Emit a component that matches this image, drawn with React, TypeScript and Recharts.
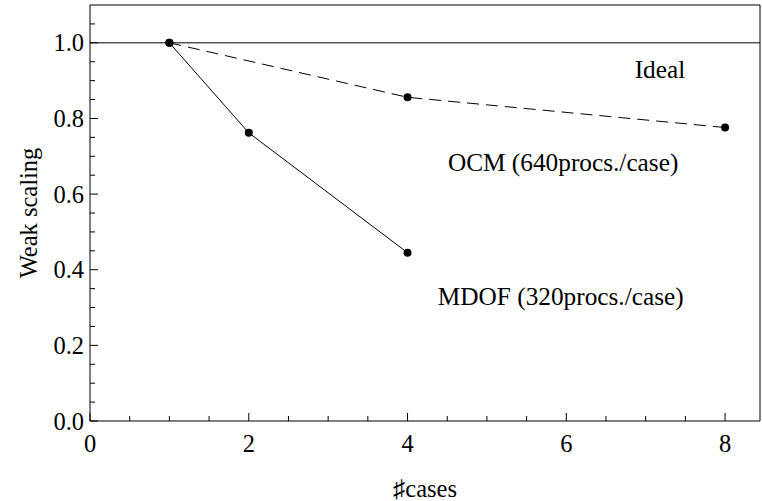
import { LineChart, Line, XAxis, YAxis, ReferenceLine, ReferenceDot } from "recharts";

const ocm = [
  { x: 1, y: 1.0 },
  { x: 4, y: 0.856 },
  { x: 8, y: 0.776 },
];
const mdof = [
  { x: 1, y: 1.0 },
  { x: 2, y: 0.762 },
  { x: 4, y: 0.445 },
];
const notes = [
  { x: 7.18, y: 0.93, text: "Ideal" },
  { x: 5.96, y: 0.686, text: "OCM (640procs./case)" },
  { x: 5.93, y: 0.33, text: "MDOF (320procs./case)" },
];
const xTicks = [0, 0.5, 1, 1.5, 2, 2.5, 3, 3.5, 4, 4.5, 5, 5.5, 6, 6.5, 7, 7.5, 8];
const yTicks = [
  0, 0.05, 0.1, 0.15, 0.2, 0.25, 0.3, 0.35, 0.4, 0.45, 0.5, 0.55, 0.6, 0.65, 0.7, 0.75, 0.8, 0.85,
  0.9, 0.95, 1.0, 1.05,
];

const FONT = "Liberation Serif";
const txt = { fontFamily: FONT, fontSize: 24.5, fill: "#000" };
const noteTxt = { fontFamily: FONT, fontSize: 25.3, fill: "#000" };
const isMajorX = (v: number) => v % 2 === 0;
const isMajorY = (v: number) => Math.round(v * 100) % 20 === 0;

const BottomTick = (p: any) => {
  const v = p.payload.value;
  const len = isMajorX(v) ? 8 : 5;
  return (
    <g>
      <line x1={p.x} x2={p.x} y1={p.y} y2={p.y - len} stroke="#000" />
      {isMajorX(v) && (
        <text x={p.x} y={p.y + 22} textAnchor="middle" dominantBaseline="central" fontFamily={FONT} fontSize={24.5} style={txt}>
          {v}
        </text>
      )}
    </g>
  );
};
const TopTick = (p: any) => {
  const len = isMajorX(p.payload.value) ? 8 : 5;
  return <line x1={p.x} x2={p.x} y1={p.y} y2={p.y + len} stroke="#000" />;
};
const LeftTick = (p: any) => {
  const v = p.payload.value;
  const len = isMajorY(v) ? 8 : 5;
  return (
    <g>
      <line x1={p.x} x2={p.x + len} y1={p.y} y2={p.y} stroke="#000" />
      {isMajorY(v) && (
        <text x={p.x - 6} y={p.y} textAnchor="end" dominantBaseline="central" fontFamily={FONT} fontSize={24.5} style={txt}>
          {v.toFixed(1)}
        </text>
      )}
    </g>
  );
};
const RightTick = (p: any) => {
  const len = isMajorY(p.payload.value) ? 8 : 5;
  return <line x1={p.x} x2={p.x - len} y1={p.y} y2={p.y} stroke="#000" />;
};

const XLabel = (p: any) => {
  const vb = p.viewBox;
  return (
    <text x={vb.x + vb.width / 2} y={vb.y + vb.height - 13} textAnchor="middle" dominantBaseline="central" fontFamily={FONT} style={txt}>
      ♯cases
    </text>
  );
};
const YLabel = (p: any) => {
  const vb = p.viewBox;
  const cx = vb.x + 28;
  const cy = vb.y + vb.height / 2;
  return (
    <text x={cx} y={cy} transform={`rotate(-90 ${cx} ${cy})`} textAnchor="middle" dominantBaseline="central" fontFamily={FONT} style={txt}>
      Weak scaling
    </text>
  );
};

const App = () => {
  return (
    <div style={{ position: "absolute", left: 0, top: 0, fontFamily: FONT }}>
      <LineChart width={762} height={501} margin={{ top: 0, right: 0, bottom: 0, left: 0 }}>
        <XAxis
          type="number"
          dataKey="x"
          domain={[0, 8.44]}
          ticks={xTicks}
          interval={0}
          tickSize={0}
          tickMargin={0}
          tick={BottomTick}
          height={80}
          axisLine={{ stroke: "#000" }}
          label={{ content: XLabel }}
        />
        <XAxis
          xAxisId="top"
          orientation="top"
          type="number"
          dataKey="x"
          domain={[0, 8.44]}
          ticks={xTicks}
          interval={0}
          tickSize={0}
          tickMargin={0}
          tick={TopTick}
          height={5}
          axisLine={{ stroke: "#000" }}
        />
        <YAxis
          type="number"
          domain={[0, 1.1]}
          ticks={yTicks}
          interval={0}
          tickSize={0}
          tickMargin={0}
          tick={LeftTick}
          width={90}
          axisLine={{ stroke: "#000" }}
          label={{ content: YLabel }}
        />
        <YAxis
          yAxisId="right"
          orientation="right"
          type="number"
          domain={[0, 1.1]}
          ticks={yTicks}
          interval={0}
          tickSize={0}
          tickMargin={0}
          tick={RightTick}
          width={2}
          axisLine={{ stroke: "#000" }}
        />
        <ReferenceLine y={1} stroke="#000" strokeWidth={1} />
        <Line
          data={ocm}
          dataKey="y"
          stroke="#000"
          strokeWidth={1}
          strokeDasharray="12 7"
          dot={{ r: 4, fill: "#000", stroke: "#000", strokeWidth: 0 }}
          isAnimationActive={false}
        />
        <Line
          data={mdof}
          dataKey="y"
          stroke="#000"
          strokeWidth={1}
          dot={{ r: 4, fill: "#000", stroke: "#000", strokeWidth: 0 }}
          isAnimationActive={false}
        />
        {notes.map((n) => (
          <ReferenceDot
            key={n.text}
            x={n.x}
            y={n.y}
            r={0}
            fill="none"
            stroke="none"
            label={{ value: n.text, position: "center", style: noteTxt }}
          />
        ))}
      </LineChart>
    </div>
  );
};

export default App;
